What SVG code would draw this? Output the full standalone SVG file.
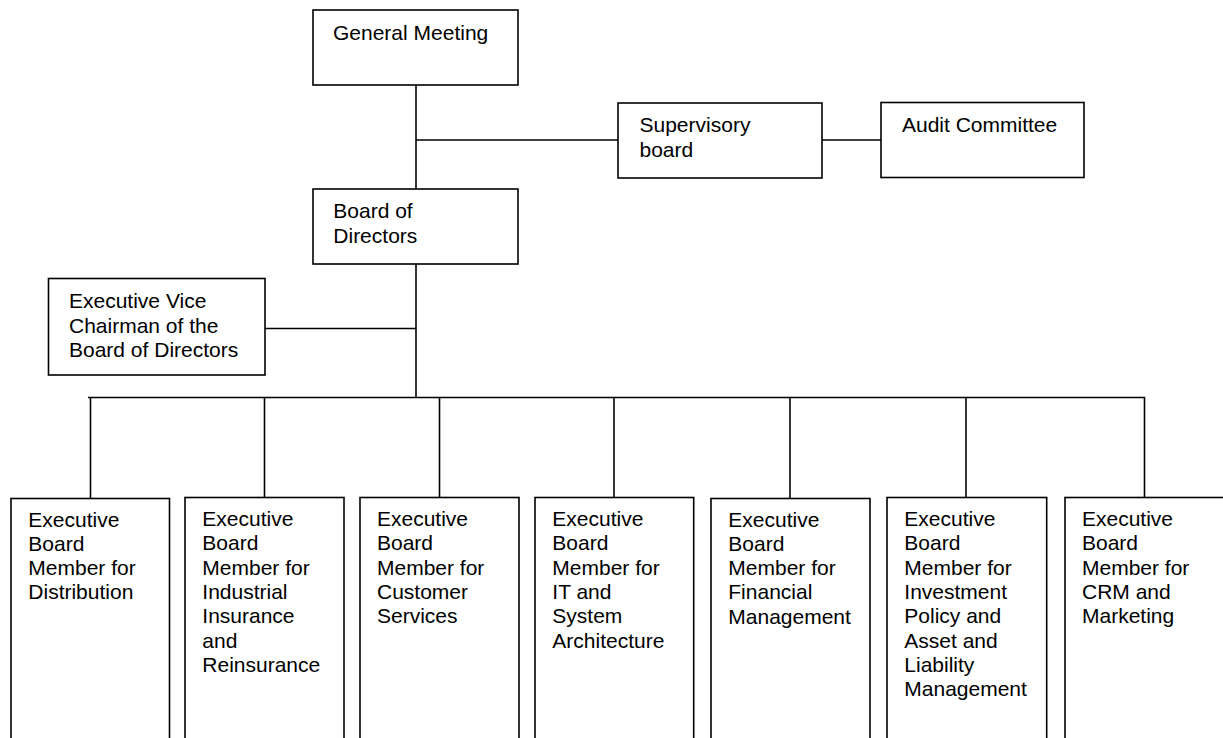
<svg xmlns="http://www.w3.org/2000/svg" width="1223" height="738" viewBox="0 0 1223 738">
<style>
rect{fill:#fff;stroke:#000;stroke-width:1.6}
line{stroke:#000;stroke-width:1.6}
text{font-family:"Liberation Sans",Arial,sans-serif;font-size:21px;fill:#000}
</style>
<rect x="0" y="0" width="1223" height="738" style="stroke:none"/>
<g id="connectors">
<line x1="416" y1="85" x2="416" y2="189"/>
<line x1="416" y1="140" x2="618" y2="140"/>
<line x1="822" y1="140" x2="881" y2="140"/>
<line x1="416" y1="264" x2="416" y2="397"/>
<line x1="265" y1="328.5" x2="416" y2="328.5"/>
<line x1="88" y1="397.5" x2="1145" y2="397.5"/>
<line x1="90.5" y1="397" x2="90.5" y2="498"/>
<line x1="264.5" y1="397" x2="264.5" y2="498"/>
<line x1="439.5" y1="397" x2="439.5" y2="498"/>
<line x1="614" y1="397" x2="614" y2="498"/>
<line x1="790" y1="397" x2="790" y2="498"/>
<line x1="966" y1="397" x2="966" y2="498"/>
<line x1="1144.5" y1="397" x2="1144.5" y2="498"/>
</g>
<g id="general-meeting">
<rect x="313" y="10" width="205" height="75"/>
<text x="333" y="40">General Meeting</text>
</g>
<g id="supervisory-board">
<rect x="618" y="103" width="204" height="75"/>
<text x="639.5" y="132.3">Supervisory</text>
<text x="639.5" y="156.6">board</text>
</g>
<g id="audit-committee">
<rect x="881" y="102.5" width="203" height="75"/>
<text x="902" y="131.7">Audit Committee</text>
</g>
<g id="board-of-directors">
<rect x="313" y="189" width="205" height="75"/>
<text x="333.3" y="218.3">Board of</text>
<text x="333.3" y="242.6">Directors</text>
</g>
<g id="executive-vice-chairman">
<rect x="48.5" y="278.5" width="216.5" height="96.5"/>
<text x="69" y="308.3">Executive Vice</text>
<text x="69" y="332.6">Chairman of the</text>
<text x="69" y="356.9">Board of Directors</text>
</g>
<g id="ebm-distribution">
<rect x="11" y="498.5" width="158.5" height="260"/>
<text x="28.3" y="526.5">Executive</text>
<text x="28.3" y="550.8">Board</text>
<text x="28.3" y="575.1">Member for</text>
<text x="28.3" y="599.4">Distribution</text>
</g>
<g id="ebm-industrial">
<rect x="185" y="497.5" width="159" height="260"/>
<text x="202.3" y="526">Executive</text>
<text x="202.3" y="550.3">Board</text>
<text x="202.3" y="574.6">Member for</text>
<text x="202.3" y="598.9">Industrial</text>
<text x="202.3" y="623.2">Insurance</text>
<text x="202.3" y="647.5">and</text>
<text x="202.3" y="671.8">Reinsurance</text>
</g>
<g id="ebm-customer">
<rect x="360" y="497.5" width="159" height="260"/>
<text x="377" y="526">Executive</text>
<text x="377" y="550.3">Board</text>
<text x="377" y="574.6">Member for</text>
<text x="377" y="598.9">Customer</text>
<text x="377" y="623.2">Services</text>
</g>
<g id="ebm-it">
<rect x="535" y="497.5" width="158.7" height="260"/>
<text x="552.3" y="526">Executive</text>
<text x="552.3" y="550.3">Board</text>
<text x="552.3" y="574.6">Member for</text>
<text x="552.3" y="598.9">IT and</text>
<text x="552.3" y="623.2">System</text>
<text x="552.3" y="647.5">Architecture</text>
</g>
<g id="ebm-financial">
<rect x="711" y="498.5" width="159" height="260"/>
<text x="728.3" y="526.5">Executive</text>
<text x="728.3" y="550.8">Board</text>
<text x="728.3" y="575.1">Member for</text>
<text x="728.3" y="599.4">Financial</text>
<text x="728.3" y="623.7">Management</text>
</g>
<g id="ebm-investment">
<rect x="887" y="497.5" width="159.7" height="260"/>
<text x="904.3" y="526">Executive</text>
<text x="904.3" y="550.3">Board</text>
<text x="904.3" y="574.6">Member for</text>
<text x="904.3" y="598.9">Investment</text>
<text x="904.3" y="623.2">Policy and</text>
<text x="904.3" y="647.5">Asset and</text>
<text x="904.3" y="671.8">Liability</text>
<text x="904.3" y="696.1">Management</text>
</g>
<g id="ebm-crm">
<rect x="1065" y="497.5" width="170" height="260"/>
<text x="1082" y="526">Executive</text>
<text x="1082" y="550.3">Board</text>
<text x="1082" y="574.6">Member for</text>
<text x="1082" y="598.9">CRM and</text>
<text x="1082" y="623.2">Marketing</text>
</g>
</svg>
